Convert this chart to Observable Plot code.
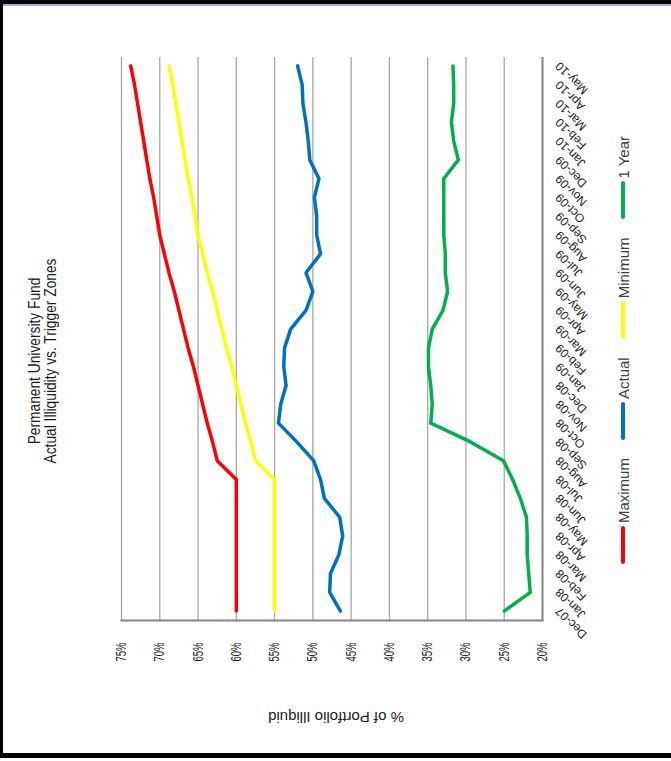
<!DOCTYPE html>
<html>
<head>
<meta charset="utf-8">
<script src="https://cdn.jsdelivr.net/npm/d3@7"></script>
<script src="https://cdn.jsdelivr.net/npm/@observablehq/plot@0.6"></script>
<style>
  body { margin: 0; background: #fff; }
  #page { position: relative; width: 671px; height: 761px; overflow: hidden; background: #fff; }
  #rot { position: absolute; left: 0; top: 0; width: 761px; height: 671px; transform-origin: 0 0; transform: translateY(761px) rotate(-90deg); }
  #chart { position: absolute; left: 0; top: 0; width: 761px; height: 671px; }
  #chart svg { max-width: none !important; width: 761px; height: 671px; }
  #title { position: absolute; left: 0; top: 27px; width: 800px; text-align: center; font-size: 16px; line-height: 15.5px; font-family: "Liberation Sans", Arial, sans-serif; color: #1a1a1a; transform: scaleX(0.86); transform-origin: 400px 0; }
  #ylabel { position: absolute; left: -106.5px; top: 326px; width: 300px; height: 20px; line-height: 20px; text-align: center; transform: rotate(-90deg); font-size: 15px; font-family: "Liberation Sans", Arial, sans-serif; color: #1a1a1a; }
  #legend { position: absolute; left: 411px; top: 613px; transform: translateX(-50%); display: flex; align-items: center; gap: 18px; white-space: nowrap; font-size: 15px; font-family: "Liberation Sans", Arial, sans-serif; color: #404040; height: 20px; }
  .item { display: flex; align-items: center; gap: 3px; }
  .sw { display: inline-block; width: 38px; height: 4px; border-radius: 2px; }
  .bd { position: absolute; }
</style>
</head>
<body>
<div id="page">
  <div id="rot">
    <div id="chart"></div>
    <div id="title">Permanent University Fund<br>Actual Illiquidity vs. Trigger Zones</div>
    <div id="ylabel">% of Portfolio Illiquid</div>
    <div id="legend"></div>
  </div>
  <div class="bd" style="left:0;top:0;width:671px;height:4px;background:#000"></div>
  <div class="bd" style="left:3px;top:4px;width:668px;height:2px;background:#95B3D7"></div>
  <div class="bd" style="left:0;top:0;width:3px;height:758px;background:#000"></div>
  <div class="bd" style="left:0;top:753px;width:671px;height:5px;background:#000"></div>
</div>
<script>
const months = ["Dec-07","Jan-08","Feb-08","Mar-08","Apr-08","May-08","Jun-08","Jul-08","Aug-08","Sep-08","Oct-08","Nov-08","Dec-08","Jan-09","Feb-09","Mar-09","Apr-09","May-09","Jun-09","Jul-09","Aug-09","Sep-09","Oct-09","Nov-09","Dec-09","Jan-10","Feb-10","Mar-10","Apr-10","May-10"];
const seriesNames = ["Maximum", "Actual", "Minimum", "1 Year"];
const seriesColors = ["#FF0000", "#0070C0", "#FFFF00", "#00B050"];
const yTicks = [20, 25, 30, 35, 40, 45, 50, 55, 60, 65, 70, 75];

const maximum = [60,60,60,60,60,60,60,60,62.5,63.1,63.8,64.4,65,65.6,66.3,66.9,67.5,68.1,68.8,69.4,70,70.4,70.8,71.3,71.7,72.1,72.5,72.9,73.3,73.8];
const actual  = [46.4,47.8,47.7,46.6,46.1,46.5,48.5,49,49.9,52.1,54.5,54.2,53.5,53.8,53.7,52.9,50.9,50,50.9,49,49.5,49.5,49.8,49.2,50.4,50.6,50.9,51.3,51.4,52];
const minimum = [55,55,55,55,55,55,55,55,57.5,58.1,58.8,59.4,60,60.6,61.3,61.9,62.5,63.1,63.8,64.4,65,65.4,65.8,66.3,66.7,67.1,67.5,67.9,68.3,68.8];
const oneYear = [25,21.6,21.8,22,22,22.1,22.9,23.9,25.1,29.4,34.6,34.4,34.6,34.9,34.9,34.4,33,32.4,32.7,32.7,32.9,32.9,32.9,32.9,31,31.6,31.9,31.6,31.6,31.7];

const seriesValues = [maximum, actual, minimum, oneYear];
const rows = [];
seriesNames.forEach((name, s) => months.forEach((m, i) => rows.push({series: name, month: m, value: seriesValues[s][i]})));

const chart = Plot.plot({
  width: 761,
  height: 671,
  marginLeft: 140,
  marginRight: 57,
  marginTop: 121,
  marginBottom: 129,
  x: {type: "point", domain: months, padding: 0.5, round: false},
  y: {domain: [20, 75]},
  color: {domain: seriesNames, range: seriesColors},
  style: {background: "transparent", overflow: "visible", fontFamily: "'Liberation Sans', Arial, sans-serif"},
  marks: [
    Plot.gridY(yTicks, {stroke: "#A6A6A6", strokeOpacity: 1, strokeWidth: 1.3}),
    Plot.ruleY([20], {stroke: "#868686", strokeWidth: 2}),
    Plot.frame({anchor: "left", stroke: "#868686", strokeWidth: 2}),
    Plot.axisY(yTicks, {tickSize: 0, tickPadding: 22, tickFormat: d => d + "%", fontSize: 14, fill: "#1a1a1a", label: null}),
    Plot.axisX(months, {tickSize: 0, tickPadding: 15, dx: 2, tickRotate: -45, fontSize: 12, fill: "#1a1a1a", label: null}),
    Plot.line(rows, {x: "month", y: "value", z: "series", stroke: "series", strokeWidth: 3.5, strokeLinecap: "round", strokeLinejoin: "round"})
  ]
});
document.getElementById("chart").appendChild(chart);

// condense the percentage tick labels along their reading direction, as in the source
chart.querySelectorAll('g[aria-label="y-axis tick label"] text').forEach(t => {
  const tr = t.getAttribute("transform");
  if (tr) t.setAttribute("transform", tr + " scale(0.68,1)");
});

const legend = document.getElementById("legend");
seriesNames.forEach((name, i) => {
  const item = document.createElement("div");
  item.className = "item";
  const sw = document.createElement("span");
  sw.className = "sw";
  sw.style.background = seriesColors[i];
  const label = document.createElement("span");
  label.textContent = name;
  item.appendChild(sw);
  item.appendChild(label);
  legend.appendChild(item);
});
</script>
</body>
</html>
